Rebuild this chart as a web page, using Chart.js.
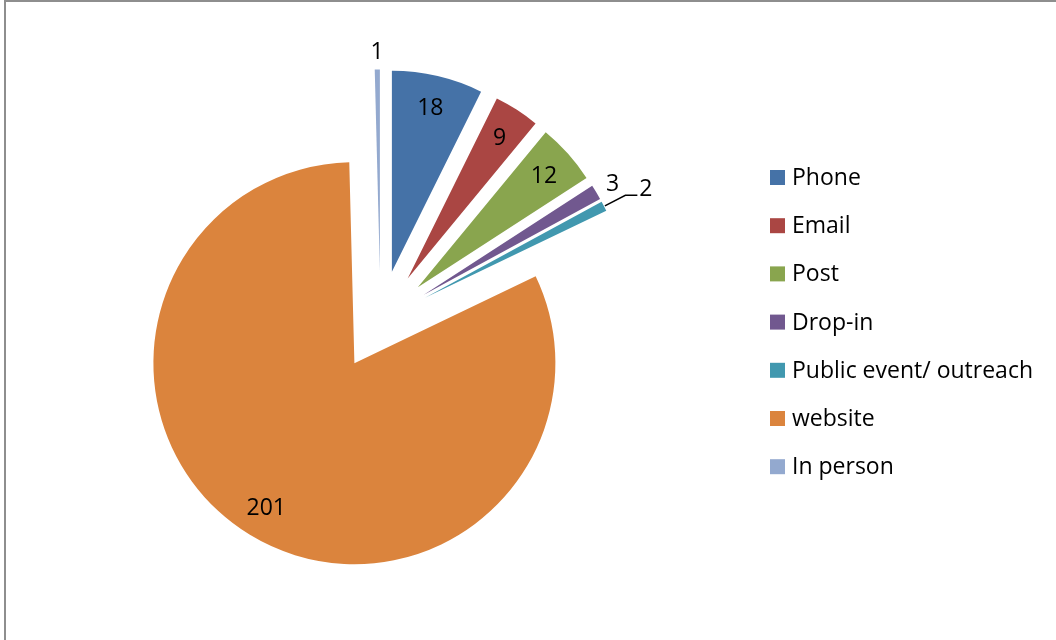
<!DOCTYPE html>
<html>
<head>
<meta charset="utf-8">
<script src="https://cdn.jsdelivr.net/npm/chart.js@4/dist/chart.umd.min.js"></script>
<style>
  html, body { margin: 0; padding: 0; background: #fff; }
  #wrap { position: relative; width: 1056px; height: 640px; overflow: hidden; }
  #frame { position: absolute; left: 4px; top: 0; width: 1100px; height: 700px;
           border-top: 2px solid #8e8e8e; border-left: 2px solid #8e8e8e; pointer-events: none; }
</style>
</head>
<body>
<div id="wrap">
  <canvas id="myChart" width="1056" height="640"></canvas>
  <div id="frame"></div>
</div>
<script>
const categories = ["Phone", "Email", "Post", "Drop-in", "Public event/ outreach", "website", "In person"];
const counts = [18, 9, 12, 3, 2, 201, 1];
const sliceColors = ["#4572A7", "#AA4643", "#89A54E", "#71588F", "#4198AF", "#DB843D", "#93A9CF"];

const explode = 50;
const labelFont = "23px 'Open Sans'";

// every slice pulled out along its own bisector
const explodePie = {
    id: 'explodePie',
    beforeDatasetDraw(chart, args) {
        const ctx = chart.ctx;
        args.meta.data.forEach(arc => {
            const mid = (arc.startAngle + arc.endAngle) / 2;
            ctx.save();
            ctx.translate(Math.cos(mid) * explode, Math.sin(mid) * explode);
            arc.draw(ctx);
            ctx.restore();
        });
        return false;
    }
};

const sliceLabels = {
    id: 'sliceLabels',
    afterDatasetsDraw(chart) {
        const ctx = chart.ctx;
        const arcs = chart.getDatasetMeta(0).data;
        const total = counts.reduce((a, b) => a + b, 0);
        let lastOut = null;
        ctx.save();
        ctx.font = labelFont;
        ctx.fillStyle = "#000";
        ctx.strokeStyle = "#000";
        ctx.lineWidth = 1.5;
        arcs.forEach((arc, i) => {
            const mid = (arc.startAngle + arc.endAngle) / 2;
            const cos = Math.cos(mid), sin = Math.sin(mid);
            const ax = arc.x + cos * explode;
            const ay = arc.y + sin * explode;
            const r = arc.outerRadius;
            const text = String(counts[i]);
            if (counts[i] / total > 0.02) {
                ctx.textAlign = "center";
                ctx.textBaseline = "alphabetic";
                ctx.fillText(text, ax + cos * r * 0.84, ay + sin * r * 0.84 + 8);
                return;
            }
            let lx = ax + cos * (r + 19);
            let ly = ay + sin * (r + 19);
            if (lastOut && Math.hypot(lx - lastOut[0], ly - lastOut[1]) < 25) {
                // crowded: leader line out to the label
                const x1 = ax + cos * (r + 1), y1 = ay + sin * (r + 1);
                const x2 = ax + cos * (r + 24), y2 = ay + sin * (r + 24);
                ctx.beginPath();
                ctx.moveTo(x1, y1);
                ctx.lineTo(x2, y2);
                ctx.lineTo(x2 + 12, y2);
                ctx.stroke();
                ctx.textAlign = "left";
                ctx.fillText(text, x2 + 14, y2 + 1);
                lastOut = [x2 + 20, y2 - 7];
                return;
            }
            ctx.textAlign = "center";
            ctx.fillText(text, lx, ly + 8);
            lastOut = [lx, ly];
        });
        ctx.restore();
    }
};

const sideLegend = {
    id: 'sideLegend',
    afterDraw(chart) {
        const ctx = chart.ctx;
        const bg = chart.data.datasets[0].backgroundColor;
        ctx.save();
        ctx.font = labelFont;
        ctx.textAlign = "left";
        ctx.textBaseline = "alphabetic";
        chart.data.labels.forEach((label, i) => {
            const y = 170 + i * 48.2;
            ctx.fillStyle = bg[i];
            ctx.fillRect(770, y, 15, 15);
            ctx.fillStyle = "#000";
            ctx.fillText(label, 792, y + 15);
        });
        ctx.restore();
    }
};

const ctx = document.getElementById('myChart').getContext('2d');
const myChart = new Chart(ctx, {
    type: 'pie',
    data: {
        labels: categories,
        datasets: [{
            data: counts,
            backgroundColor: sliceColors,
            borderWidth: 0
        }]
    },
    options: {
        responsive: false,
        animation: false,
        radius: 201,
        layout: { padding: { left: 80, right: 375, top: 20, bottom: 19 } },
        plugins: {
            legend: { display: false },
            tooltip: { enabled: false }
        }
    },
    plugins: [explodePie, sliceLabels, sideLegend]
});
</script>
</body>
</html>
